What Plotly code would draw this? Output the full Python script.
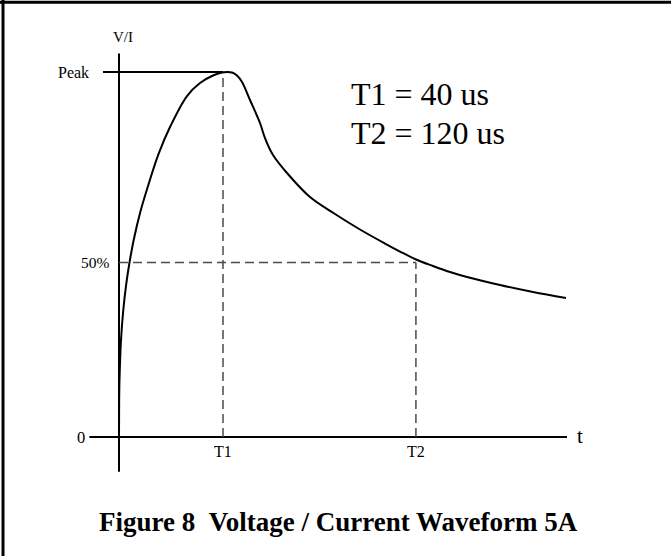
import plotly.graph_objects as go

# Waveform (t in schematic us units, v in % of peak)
wave_t = [0, 0.06, 0.19, 0.77, 1.65, 2.73, 4.04, 5.65, 8.19, 12.12, 15.19, 19.62, 26.15,
          31.15, 36.15, 39.62, 41.54, 43.46, 45.38, 47.31, 50.38, 54.23, 56.15, 59.23,
          64.62, 73.46, 83.08, 92.69, 102.31, 108.08, 114.23, 120.77, 127.31, 133.85,
          146.54, 159.23, 171.92]
wave_v = [0, 10.14, 15.62, 26.58, 34.79, 41.64, 47.81, 53.97, 61.64, 70.96, 77.53, 84.93, 93.42,
          96.99, 99.04, 99.86, 100.0, 99.86, 99.04, 97.26, 92.33, 86.03, 81.92, 77.26,
          72.33, 65.75, 61.10, 56.85, 53.01, 50.82, 48.63, 46.85, 45.21, 43.84,
          41.64, 39.73, 38.08]

T1_pos = 40.0
T2_pos = 114.2
peak_level = 100.0
half_level = 47.8
x_axis_span = [-11.4, 172.3]
y_axis_span = [-9.5, 105.1]
peak_line_start = -6.15

tick_labels_x = ["T1", "T2"]
tick_labels_y = ["Peak", "50%", "0"]
params_text = ["T1 = 40 us", "T2 = 120 us"]
caption = "Figure 8&nbsp;&nbsp;Voltage / Current Waveform 5A"

SERIF = "Liberation Serif, Times New Roman, serif"
fig = go.Figure()

solid = dict(color="black", width=2)
# axes
fig.add_trace(go.Scatter(x=x_axis_span, y=[0, 0], mode="lines", line=solid, hoverinfo="skip"))
fig.add_trace(go.Scatter(x=[0, 0], y=y_axis_span, mode="lines", line=solid, hoverinfo="skip"))
# peak line
fig.add_trace(go.Scatter(x=[peak_line_start, T1_pos], y=[peak_level, peak_level], mode="lines",
                         line=solid, hoverinfo="skip"))
# dashed guides
dash_style = dict(color="#4a4a4a", width=1.5, dash="9px,5px")
fig.add_trace(go.Scatter(x=[T1_pos, T1_pos], y=[0, peak_level], mode="lines",
                         line=dash_style, hoverinfo="skip"))
fig.add_trace(go.Scatter(x=[0, T2_pos], y=[half_level, half_level], mode="lines",
                         line=dash_style, hoverinfo="skip"))
fig.add_trace(go.Scatter(x=[T2_pos, T2_pos], y=[0, half_level], mode="lines",
                         line=dash_style, hoverinfo="skip"))
# waveform
fig.add_trace(go.Scatter(x=wave_t, y=wave_v, mode="lines",
                         line=dict(color="black", width=2, shape="spline", smoothing=1.0),
                         hoverinfo="skip"))

ann = []
def A(x, y, text, size, xanchor="center", yanchor="middle", bold=False):
    ann.append(dict(x=x, y=y, xref="x", yref="y", text=("<b>%s</b>" % text) if bold else text,
                    showarrow=False, xanchor=xanchor, yanchor=yanchor,
                    font=dict(family=SERIF, size=size, color="black")))

A(1.54, 109.5, "V/I", 15)
A(-10.7, peak_level, tick_labels_y[0], 16, xanchor="right")
A(-2.7, half_level, tick_labels_y[1], 15.5, xanchor="right")
A(-12.3, 0, tick_labels_y[2], 16.5, xanchor="right")
A(T1_pos, -4.1, tick_labels_x[0], 16)
A(T2_pos, -4.1, tick_labels_x[1], 16)
A(177.3, 0.3, "t", 21)
A(88.3, 93.97, params_text[0], 32, xanchor="left")
A(88.3, 83.42, params_text[1], 32, xanchor="left")
A(84.5, -23.3, caption, 27, bold=True)

fig.update_layout(
    width=671, height=556,
    margin=dict(l=0, r=0, t=0, b=0),
    paper_bgcolor="white", plot_bgcolor="white",
    showlegend=False,
    xaxis=dict(range=[-45.77, 212.31], visible=False, fixedrange=True),
    yaxis=dict(range=[-32.6, 119.73], visible=False, fixedrange=True),
    annotations=ann,
    shapes=[
        dict(type="line", xref="paper", yref="paper", x0=0, x1=1, y0=0.996, y1=0.996,
             line=dict(color="black", width=3)),
        dict(type="line", xref="paper", yref="paper", x0=0.0045, x1=0.0045, y0=0, y1=1,
             line=dict(color="black", width=3)),
    ],
)

fig.write_html("out.html",
               config={"displayModeBar": False, "staticPlot": True},
               post_script="document.body.style.margin='0px';document.body.style.overflow='hidden';")
